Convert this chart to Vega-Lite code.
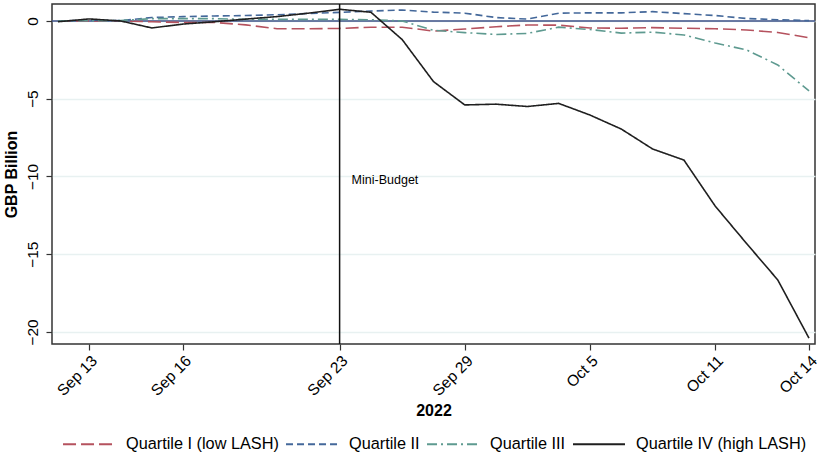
{
  "$schema": "https://vega.github.io/schema/vega-lite/v6.json",
  "width": 763,
  "height": 340,
  "autosize": {"type": "none"},
  "padding": {"left": 52, "top": 4, "right": 2, "bottom": 114},
  "background": "white",
  "config": {
    "font": "Liberation Sans",
    "view": {"stroke": "#333333", "strokeWidth": 1.5},
    "axis": {"domain": false, "tickColor": "#333333", "tickSize": 6, "tickWidth": 1.2, "labelColor": "#000000", "titleColor": "#000000", "labelFontSize": 15.5, "titleFontSize": 16, "titleFontWeight": "bold"}
  },
  "datasets": {
    "series": [
      {"date": "Sep 12", "Q1": 0, "Q2": 0, "Q3": 0, "Q4": -0.05},
      {"date": "Sep 13", "Q1": 0, "Q2": 0.05, "Q3": 0.02, "Q4": 0.13},
      {"date": "Sep 14", "Q1": 0, "Q2": 0.02, "Q3": 0.02, "Q4": 0},
      {"date": "Sep 15", "Q1": -0.05, "Q2": 0.22, "Q3": 0.15, "Q4": -0.45},
      {"date": "Sep 16", "Q1": -0.1, "Q2": 0.28, "Q3": 0.15, "Q4": -0.2},
      {"date": "Sep 19", "Q1": -0.1, "Q2": 0.32, "Q3": 0.15, "Q4": -0.05},
      {"date": "Sep 20", "Q1": -0.25, "Q2": 0.35, "Q3": 0.1, "Q4": 0.12},
      {"date": "Sep 21", "Q1": -0.5, "Q2": 0.4, "Q3": 0.1, "Q4": 0.28},
      {"date": "Sep 22", "Q1": -0.5, "Q2": 0.48, "Q3": 0.1, "Q4": 0.5},
      {"date": "Sep 23", "Q1": -0.48, "Q2": 0.55, "Q3": 0.1, "Q4": 0.75},
      {"date": "Sep 26", "Q1": -0.4, "Q2": 0.64, "Q3": 0.08, "Q4": 0.56},
      {"date": "Sep 27", "Q1": -0.4, "Q2": 0.7, "Q3": 0.0, "Q4": -1.2},
      {"date": "Sep 28", "Q1": -0.65, "Q2": 0.57, "Q3": -0.6, "Q4": -3.9},
      {"date": "Sep 29", "Q1": -0.52, "Q2": 0.5, "Q3": -0.75, "Q4": -5.4},
      {"date": "Sep 30", "Q1": -0.37, "Q2": 0.22, "Q3": -0.87, "Q4": -5.35},
      {"date": "Oct 3", "Q1": -0.26, "Q2": 0.12, "Q3": -0.8, "Q4": -5.5},
      {"date": "Oct 4", "Q1": -0.27, "Q2": 0.5, "Q3": -0.4, "Q4": -5.3},
      {"date": "Oct 5", "Q1": -0.45, "Q2": 0.52, "Q3": -0.55, "Q4": -6.05},
      {"date": "Oct 6", "Q1": -0.47, "Q2": 0.52, "Q3": -0.78, "Q4": -6.95},
      {"date": "Oct 7", "Q1": -0.43, "Q2": 0.6, "Q3": -0.72, "Q4": -8.23},
      {"date": "Oct 10", "Q1": -0.47, "Q2": 0.47, "Q3": -0.9, "Q4": -8.94},
      {"date": "Oct 11", "Q1": -0.5, "Q2": 0.35, "Q3": -1.42, "Q4": -11.9},
      {"date": "Oct 12", "Q1": -0.58, "Q2": 0.16, "Q3": -1.86, "Q4": -14.3},
      {"date": "Oct 13", "Q1": -0.74, "Q2": 0.08, "Q3": -2.83, "Q4": -16.65},
      {"date": "Oct 14", "Q1": -1.08, "Q2": 0.02, "Q3": -4.5, "Q4": -20.4}
    ],
    "notes": [{"date": "Sep 23", "value": -10.2, "label": "Mini-Budget"}],
    "zero": [{"value": 0}]
  },
  "layer": [
    {
      "data": {"name": "zero"},
      "mark": {"type": "rule", "color": "#3b4f86", "strokeWidth": 1.5},
      "encoding": {"y": {"field": "value", "type": "quantitative"}}
    },
    {
      "data": {"name": "series"},
      "transform": [{"fold": ["Q1", "Q2", "Q3", "Q4"], "as": ["key", "value"]}],
      "mark": {"type": "line", "strokeWidth": 1.6},
      "encoding": {
        "x": {
          "field": "date", "type": "ordinal", "sort": null,
          "scale": {"type": "point", "padding": 0.19},
          "axis": {"values": ["Sep 13", "Sep 16", "Sep 23", "Sep 29", "Oct 5", "Oct 11", "Oct 14"], "labelAngle": -45, "labelAlign": "right", "labelBaseline": "top", "labelPadding": 3, "title": "2022", "titlePadding": 4, "grid": false}
        },
        "y": {
          "field": "value", "type": "quantitative",
          "scale": {"domain": [-20.77, 1.09], "nice": false, "zero": false},
          "axis": {"values": [-20, -15, -10, -5, 0], "labelAngle": -90, "labelAlign": "center", "labelBaseline": "bottom", "labelPadding": 6, "title": "GBP Billion", "titlePadding": 6, "grid": true, "gridColor": "#e8f1f1", "gridWidth": 1.5}
        },
        "color": {
          "field": "key", "type": "nominal",
          "scale": {"domain": ["Q1", "Q2", "Q3", "Q4"], "range": ["#b5525e", "#44689a", "#5e9a90", "#1f1f1f"]},
          "legend": {
            "title": null, "orient": "none", "legendX": 10, "legendY": 413, "direction": "horizontal", "columns": 4,
            "symbolType": "stroke", "symbolSize": 2700, "symbolStrokeWidth": 2,
            "labelFontSize": 16.3, "labelLimit": 400, "columnPadding": 3, "labelOffset": 10, "padding": 0,
            "labelExpr": "{'Q1': 'Quartile I (low LASH)', 'Q2': 'Quartile II', 'Q3': 'Quartile III', 'Q4': 'Quartile IV (high LASH)'}[datum.label]"
          }
        },
        "strokeDash": {
          "field": "key", "type": "nominal",
          "scale": {"domain": ["Q1", "Q2", "Q3", "Q4"], "range": [[13, 5], [7, 4], [10, 4, 2, 4], [1, 0]]}
        }
      }
    },
    {
      "data": {"name": "notes"},
      "mark": {"type": "rule", "color": "#111111", "strokeWidth": 1.5},
      "encoding": {"x": {"field": "date", "type": "ordinal", "sort": null}}
    },
    {
      "data": {"name": "notes"},
      "mark": {"type": "text", "align": "left", "baseline": "middle", "dx": 12, "fontSize": 12.5, "color": "#000000"},
      "encoding": {
        "x": {"field": "date", "type": "ordinal", "sort": null},
        "y": {"field": "value", "type": "quantitative"},
        "text": {"field": "label"}
      }
    }
  ]
}
